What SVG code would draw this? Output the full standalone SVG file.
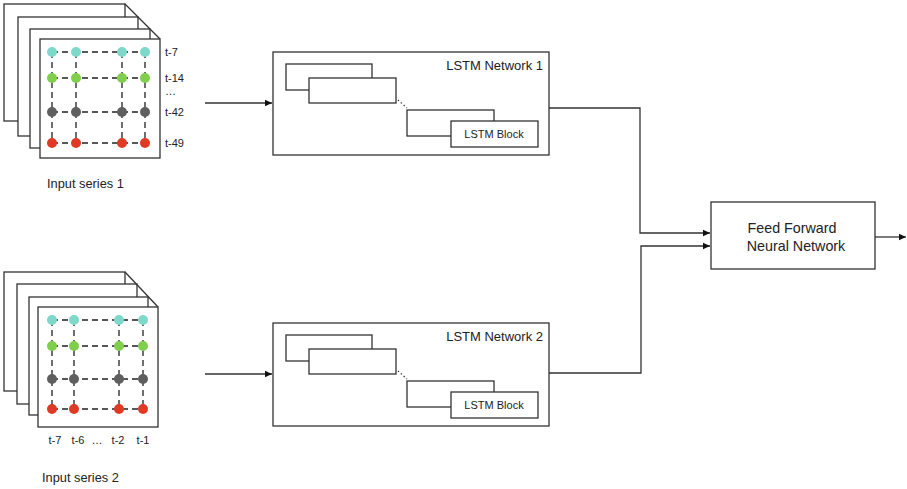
<svg xmlns="http://www.w3.org/2000/svg" width="907" height="489" viewBox="0 0 907 489">
<defs>
<marker id="ah" markerWidth="8" markerHeight="8" refX="7" refY="4" orient="auto" markerUnits="userSpaceOnUse">
<path d="M0,0.8 L7,4 L0,7.2 Z" fill="#111"/>
</marker>
<style>
.box{fill:#fff;stroke:#333;stroke-width:1.3}
.ln{fill:none;stroke:#333;stroke-width:1.3}
.dash{fill:none;stroke:#222;stroke-width:1.3;stroke-dasharray:6 4}
.t{font-family:"Liberation Sans",Arial,sans-serif;fill:#222}
.c1{fill:#7fd9cb}.c2{fill:#7fcf4d}.c3{fill:#5f5f5f}.c4{fill:#e03a24}
.con{fill:none;stroke:#333;stroke-width:1.3}
</style>
</defs>
<rect width="907" height="489" fill="#fff"/>

<g id="input1">
<rect class="box" x="4" y="4" width="121" height="117"/>
<rect class="box" x="18" y="17" width="120" height="119"/>
<rect class="box" x="30" y="29" width="120" height="119"/>
<line class="ln" x1="125" y1="4" x2="160" y2="39"/>
<rect class="box" x="40" y="39" width="120" height="119"/>
<g>
<path class="dash" d="M52,52H145M52,78H145M52,112H145M52,143H145"/>
<path class="dash" d="M52,52V143M76,52V143M122,52V143M145,52V143"/>
</g>
<g>
<circle class="c1" cx="52" cy="52" r="5"/><circle class="c1" cx="76" cy="52" r="5"/><circle class="c1" cx="122" cy="52" r="5"/><circle class="c1" cx="145" cy="52" r="5"/>
<circle class="c2" cx="52" cy="78" r="5"/><circle class="c2" cx="76" cy="78" r="5"/><circle class="c2" cx="122" cy="78" r="5"/><circle class="c2" cx="145" cy="78" r="5"/>
<circle class="c3" cx="52" cy="112" r="5"/><circle class="c3" cx="76" cy="112" r="5"/><circle class="c3" cx="122" cy="112" r="5"/><circle class="c3" cx="145" cy="112" r="5"/>
<circle class="c4" cx="52" cy="143" r="5"/><circle class="c4" cx="76" cy="143" r="5"/><circle class="c4" cx="122" cy="143" r="5"/><circle class="c4" cx="145" cy="143" r="5"/>
</g>
<g class="t" font-size="11">
<text x="165" y="56">t-7</text>
<text x="165" y="82">t-14</text>
<text x="165" y="95">…</text>
<text x="165" y="116">t-42</text>
<text x="165" y="147">t-49</text>
</g>
<text class="t" x="47" y="188" font-size="12.8">Input series 1</text>
</g>

<g id="input2">
<rect class="box" x="4" y="272" width="121" height="119"/>
<rect class="box" x="17" y="284" width="120" height="120"/>
<rect class="box" x="29" y="297" width="119" height="118"/>
<line class="ln" x1="125" y1="272" x2="158" y2="307"/>
<rect class="box" x="38" y="307" width="120" height="120"/>
<g>
<path class="dash" d="M52,320H143M52,346H143M52,379H143M52,409H143"/>
<path class="dash" d="M52,320V409M74,320V409M119,320V409M143,320V409"/>
</g>
<g>
<circle class="c1" cx="52" cy="320" r="5"/><circle class="c1" cx="74" cy="320" r="5"/><circle class="c1" cx="119" cy="320" r="5"/><circle class="c1" cx="143" cy="320" r="5"/>
<circle class="c2" cx="52" cy="346" r="5"/><circle class="c2" cx="74" cy="346" r="5"/><circle class="c2" cx="119" cy="346" r="5"/><circle class="c2" cx="143" cy="346" r="5"/>
<circle class="c3" cx="52" cy="379" r="5"/><circle class="c3" cx="74" cy="379" r="5"/><circle class="c3" cx="119" cy="379" r="5"/><circle class="c3" cx="143" cy="379" r="5"/>
<circle class="c4" cx="52" cy="409" r="5"/><circle class="c4" cx="74" cy="409" r="5"/><circle class="c4" cx="119" cy="409" r="5"/><circle class="c4" cx="143" cy="409" r="5"/>
</g>
<g class="t" font-size="11" text-anchor="middle">
<text x="55" y="444">t-7</text>
<text x="78" y="444">t-6</text>
<text x="97" y="444">…</text>
<text x="118" y="444">t-2</text>
<text x="143" y="444">t-1</text>
</g>
<text class="t" x="42" y="482" font-size="12.8">Input series 2</text>
</g>

<g id="lstm1">
<rect class="box" x="273" y="52" width="276" height="103"/>
<text class="t" x="543" y="70" font-size="13" text-anchor="end">LSTM Network 1</text>
<rect class="box" x="286" y="64" width="86" height="26"/>
<rect class="box" x="309" y="78" width="87" height="25"/>
<path d="M398,100 L407,108" fill="none" stroke="#333" stroke-width="1.3" stroke-dasharray="1.3 2.5"/>
<rect class="box" x="407" y="110" width="87" height="26"/>
<rect class="box" x="451" y="121" width="87" height="26"/>
<text class="t" x="494" y="138" font-size="11" text-anchor="middle">LSTM Block</text>
</g>

<g id="lstm2">
<rect class="box" x="273" y="323" width="276" height="103"/>
<text class="t" x="543" y="341" font-size="13" text-anchor="end">LSTM Network 2</text>
<rect class="box" x="286" y="335" width="86" height="26"/>
<rect class="box" x="309" y="349" width="87" height="25"/>
<path d="M398,371 L407,379" fill="none" stroke="#333" stroke-width="1.3" stroke-dasharray="1.3 2.5"/>
<rect class="box" x="407" y="381" width="87" height="26"/>
<rect class="box" x="451" y="392" width="87" height="26"/>
<text class="t" x="494" y="409" font-size="11" text-anchor="middle">LSTM Block</text>
</g>

<g id="ffnn">
<rect class="box" x="711" y="202" width="164" height="67"/>
<text class="t" x="792" y="233" font-size="14.3" text-anchor="middle">Feed Forward</text>
<text class="t" x="796" y="251" font-size="14.3" text-anchor="middle">Neural Network</text>
</g>

<g id="connectors">
<path class="con" d="M205,103 H272" marker-end="url(#ah)"/>
<path class="con" d="M205,374 H272" marker-end="url(#ah)"/>
<path class="con" d="M549,108 H640 V233 H710" marker-end="url(#ah)"/>
<path class="con" d="M549,373 H641 V246 H710" marker-end="url(#ah)"/>
<path class="con" d="M875,237 H906" marker-end="url(#ah)"/>
</g>
</svg>
